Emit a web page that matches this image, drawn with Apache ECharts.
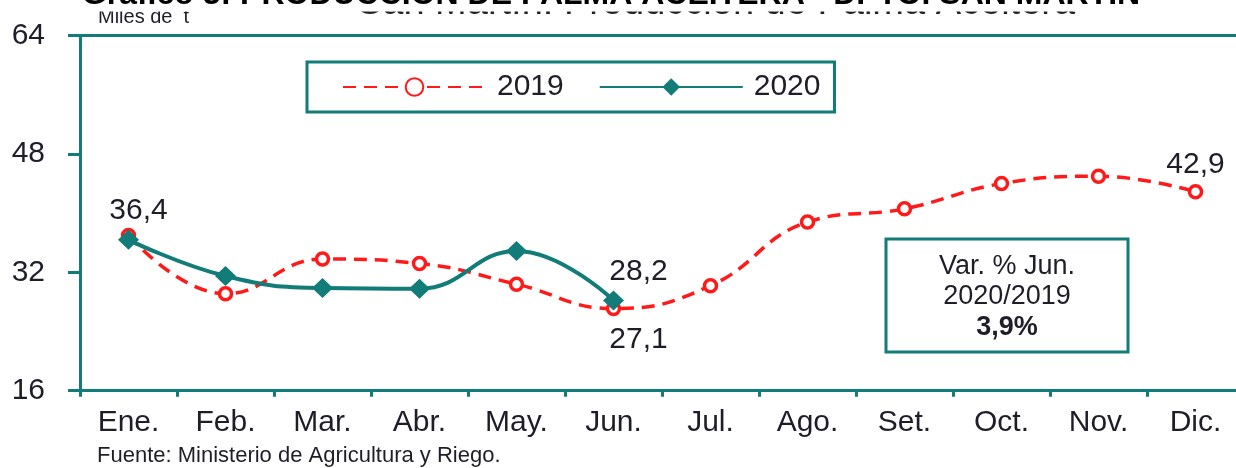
<!DOCTYPE html>
<html>
<head>
<meta charset="utf-8">
<script src="https://cdn.jsdelivr.net/npm/echarts@6/dist/echarts.min.js"></script>
<style>
html,body{margin:0;padding:0;background:#fff;overflow:hidden;width:1236px;height:468px;}
#c{width:1244px;height:468px;}
</style>
</head>
<body>
<div id="c"></div>
<script>
const months = ['Ene.','Feb.','Mar.','Abr.','May.','Jun.','Jul.','Ago.','Set.','Oct.','Nov.','Dic.'];
const s2019 = [37.0, 29.1, 33.8, 33.2, 30.4, 27.1, 30.2, 38.8, 40.6, 44.0, 45.0, 42.9];
const s2020 = [36.4, 31.5, 29.9, 29.8, 34.9, 28.2];
const yTicks = [16, 32, 48, 64];
const labels2019 = {5: 'bottom', 11: 'top'};
const labels2020 = {0: 'top', 5: 'top'};

const TEAL = '#117c78';
const RED = '#ff1a1a';
const TXT = '#1e1e28';
const FONT = '"Liberation Sans", Arial, sans-serif';
const fmt = v => String(v.toFixed(1)).replace('.', ',');

const chart = echarts.init(document.getElementById('c'));

function build(values, labelMap, offsets) {
  return values.map((v, i) => {
    if (labelMap[i]) {
      return {
        value: v,
        label: {
          show: true,
          position: labelMap[i],
          distance: labelMap[i] === 'bottom' ? 8 : 4,
          offset: offsets[i] || [0, 0],
          formatter: p => fmt(p.value),
          fontSize: 30,
          fontFamily: FONT,
          color: TXT
        }
      };
    }
    return v;
  });
}

function txt(text, x, y, font, fill, align, valign, z) {
  return {type: 'text', z: z, silent: true, x: x, y: y,
    style: {text: text, font: font, fill: fill, align: align, verticalAlign: valign}};
}

chart.setOption({
  animation: false,
  backgroundColor: '#fff',
  grid: {left: 80, right: 0, top: 35.7, bottom: 77.3, containLabel: false},
  legend: {
    left: 307, top: 62,
    padding: [10, 14, 10, 35],
    borderColor: TEAL, borderWidth: 3,
    itemWidth: 143, itemHeight: 22, itemGap: 35,
    textStyle: {fontSize: 30, fontFamily: FONT, color: TXT, padding: [0, 0, 0, 6]},
    data: ['2019', '2020']
  },
  xAxis: [{
    type: 'category',
    data: months,
    boundaryGap: true,
    axisLine: {lineStyle: {color: TEAL, width: 3}},
    axisTick: {show: true, length: 6, lineStyle: {color: TEAL, width: 3}},
    axisLabel: {fontSize: 30, fontFamily: FONT, color: TXT, margin: 17}
  }, {
    type: 'category',
    data: months,
    position: 'top',
    axisLine: {show: true, lineStyle: {color: TEAL, width: 3}},
    axisTick: {show: false},
    axisLabel: {show: false}
  }],
  yAxis: {
    type: 'value',
    min: yTicks[0], max: yTicks[yTicks.length - 1], interval: 16,
    axisLine: {show: true, lineStyle: {color: TEAL, width: 3}},
    axisTick: {show: true, length: 12, lineStyle: {color: TEAL, width: 3}},
    splitLine: {show: false},
    axisLabel: {fontSize: 30, fontFamily: FONT, color: TXT, margin: 35}
  },
  series: [{
    name: '2019',
    type: 'line',
    smooth: 0.45,
    data: build(s2019, labels2019, {5: [25, 0], 11: [0, 0]}),
    symbol: 'circle',
    symbolSize: 12,
    itemStyle: {color: '#fff', borderColor: RED, borderWidth: 3.5},
    lineStyle: {color: RED, width: 3.5, type: [13, 8]},
    z: 2
  }, {
    name: '2020',
    type: 'line',
    smooth: 0.45,
    data: build(s2020, labels2020, {0: [10, 0], 5: [25, 0]}),
    symbol: 'diamond',
    symbolSize: [21, 20],
    itemStyle: {color: TEAL},
    lineStyle: {color: TEAL, width: 4},
    z: 3
  }],
  graphic: [
    txt('San Martín: Producción de Palma Aceitera', 716, 4, '38px ' + FONT, '#222', 'center', 'middle', 1),
    txt('Miles de  t', 98, 17, '20px ' + FONT, TXT, 'left', 'middle', 1),
    {type: 'rect', z: 50, silent: true, shape: {x: 60, y: -5, width: 1184, height: 16.5}, style: {fill: '#fff'}},
    txt('Gráfico 3: PRODUCCIÓN DE PALMA ACEITERA - DPTO. SAN MARTÍN', 611, -5, 'bold 32px ' + FONT, '#000', 'center', 'middle', 60),
    {type: 'rect', z: 50, silent: true, shape: {x: 886, y: 239, width: 242, height: 113}, style: {fill: '#fff', stroke: TEAL, lineWidth: 3}},
    txt('Var. % Jun.', 1007, 267, '27px ' + FONT, TXT, 'center', 'middle', 60),
    txt('2020/2019', 1007, 297, '27px ' + FONT, TXT, 'center', 'middle', 60),
    txt('3,9%', 1007, 328, 'bold 27px ' + FONT, TXT, 'center', 'middle', 60),
    txt('Fuente: Ministerio de Agricultura y Riego.', 97, 456, '22px ' + FONT, TXT, 'left', 'middle', 60)
  ]
});
</script>
</body>
</html>
